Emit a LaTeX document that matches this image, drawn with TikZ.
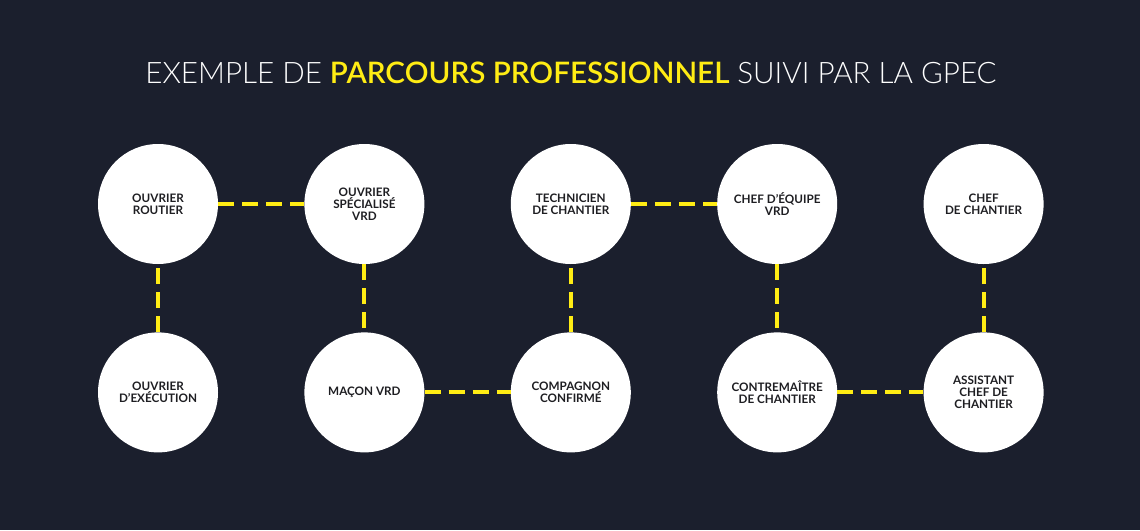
\documentclass[tikz,border=0pt]{standalone}
\usepackage{fontspec}
\setmainfont{Lato}
\newfontfamily\latolight{Lato Light}
\usetikzlibrary{positioning}

\definecolor{bgnavy}{RGB}{27,31,45}
\definecolor{linkyellow}{RGB}{255,236,20}
\definecolor{jobtext}{RGB}{30,30,34}

\begin{document}
\begin{tikzpicture}[x=1pt, y=-1pt,
    job/.style={circle, fill=white, minimum size=120pt, inner sep=0pt, align=center,
      text=jobtext, font=\bfseries\fontsize{11.7}{12}\selectfont},
    link/.style={draw=linkyellow, line width=4pt, dash pattern=on 16pt off 8pt},
    node distance=68pt and 86pt]
                \fill[bgnavy] (0,0) rectangle (1140,530);
                \node[text=white, font=\fontsize{29.6}{31}\selectfont] (titre) at (571,73)
                  {\latolight EXEMPLE DE \textcolor{linkyellow}{\bfseries PARCOURS PROFESSIONNEL} SUIVI PAR LA GPEC};
                % haut
                \node[job] (routier) at (158,204) {OUVRIER\\ROUTIER};
                \node[job, right=of routier] (specialise) {OUVRIER\\SPÉCIALISÉ\\VRD};
                \node[job, right=of specialise] (technicien) {TECHNICIEN\\DE CHANTIER};
                \node[job, right=of technicien] (equipe) {CHEF D'ÉQUIPE\\VRD};
                \node[job, right=of equipe] (chef) {CHEF\\DE CHANTIER};
                % bas
                \node[job, below=of routier] (execution) {OUVRIER\\D'EXÉCUTION};
                \node[job, below=of specialise] (macon) {MAÇON VRD};
                \node[job, below=of technicien] (compagnon) {COMPAGNON\\CONFIRMÉ};
                \node[job, below=of equipe] (contremaitre) {CONTREMAÎTRE\\DE CHANTIER};
                \node[job, below=of chef] (assistant) {ASSISTANT\\CHEF DE\\CHANTIER};
                % parcours
                \draw[link] (execution) -- (routier);
                \draw[link] (routier) -- (specialise);
                \draw[link] (specialise) -- (macon);
                \draw[link] (macon) -- (compagnon);
                \draw[link] (compagnon) -- (technicien);
                \draw[link] (technicien) -- (equipe);
                \draw[link] (equipe) -- (contremaitre);
                \draw[link] (contremaitre) -- (assistant);
                \draw[link] (assistant) -- (chef);
            \end{tikzpicture}
\end{document}
